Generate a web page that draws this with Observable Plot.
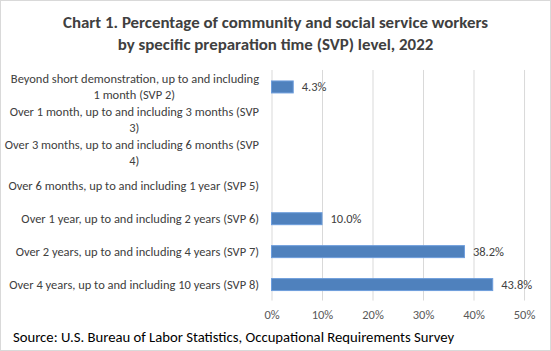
<!DOCTYPE html>
<html>
<head>
<meta charset="utf-8">
<script src="https://cdn.jsdelivr.net/npm/d3@7"></script>
<script src="https://cdn.jsdelivr.net/npm/@observablehq/plot@0.6"></script>
<style>
  html, body { margin: 0; padding: 0; background: #fff; }
  #chart { position: relative; width: 549px; height: 349px; border: 1px solid #d9d9d9; background: #fff; overflow: hidden;
    font-family: Carlito, Lato, "Open Sans", sans-serif; }
  #title { position: absolute; left: 0; top: 11px; width: 549px; text-align: center; font-weight: bold; font-size: 16.9px; line-height: 22px; color: #404040; }
  #plot { position: absolute; left: -1px; top: 55px; }
  #caption { position: absolute; left: 12px; top: 327px; font-size: 14.7px; line-height: 18px; color: #000; white-space: nowrap; }
</style>
</head>
<body>
<div id="chart">
  <div id="title">Chart 1. Percentage of community and social service workers<br>by specific preparation time (SVP) level, 2022</div>
  <div id="plot"></div>
  <div id="caption">Source: U.S. Bureau of Labor Statistics, Occupational Requirements Survey</div>
</div>
<script>
const categories = [
  "Beyond short demonstration, up to and including 1 month (SVP 2)",
  "Over 1 month, up to and including 3 months (SVP 3)",
  "Over 3 months, up to and including 6 months (SVP 4)",
  "Over 6 months, up to and including 1 year (SVP 5)",
  "Over 1 year, up to and including 2 years (SVP 6)",
  "Over 2 years, up to and including 4 years (SVP 7)",
  "Over 4 years, up to and including 10 years (SVP 8)"
];
const labelLine1 = [
  "Beyond short demonstration, up to and including",
  "Over 1 month, up to and including 3 months (SVP",
  "Over 3 months, up to and including 6 months (SVP",
  "Over 6 months, up to and including 1 year (SVP 5)",
  "Over 1 year, up to and including 2 years (SVP 6)",
  "Over 2 years, up to and including 4 years (SVP 7)",
  "Over 4 years, up to and including 10 years (SVP 8)"
];
const labelLine2 = ["1 month (SVP 2)", "3)", "4)", "", "", "", ""];
const values = [4.3, null, null, null, 10.0, 38.2, 43.8];
const xTicks = [0, 10, 20, 30, 40, 50];

const rows = categories.map((c, i) => ({category: c, line1: labelLine1[i], line2: labelLine2[i], value: values[i]}));
const bars = rows.filter(d => d.value != null);
const single = rows.filter(d => d.line2 === "");
const wrapped = rows.filter(d => d.line2 !== "");

const font = "Carlito, Lato, 'Open Sans', sans-serif";
const plot = Plot.plot({
  width: 551,
  height: 269,
  marginTop: 14,
  marginBottom: 24,
  marginLeft: 272,
  marginRight: 26,
  style: {fontFamily: font, fontSize: "12.5px", background: "transparent"},
  x: {domain: [0, 50], ticks: xTicks, tickFormat: d => d + "%"},
  y: {domain: categories, paddingInner: 0.65, paddingOuter: 0.325, axis: null},
  marks: [
    Plot.gridX(xTicks, {stroke: "#d9d9d9", strokeOpacity: 1, strokeWidth: 1}),
    Plot.axisX({ticks: xTicks, tickSize: 0, tickPadding: 9, tickFormat: d => d + "%", fill: "#595959", fontSize: 12.5, label: null}),
    Plot.barX(bars, {x: "value", y: "category", fill: "#4f81bd", stroke: "#6d9ddc", strokeWidth: 1}),
    Plot.text(bars, {x: "value", y: "category", text: d => d3.format(".1f")(d.value) + "%", textAnchor: "start", dx: 8, fill: "#404040", fontSize: 12.5}),
    Plot.text(single, {y: "category", frameAnchor: "left", text: "line1", textAnchor: "end", dx: -13, fill: "#404040", fontSize: 12.5}),
    Plot.text(wrapped, {y: "category", frameAnchor: "left", text: "line1", textAnchor: "end", dx: -13, dy: -8, fill: "#404040", fontSize: 12.5}),
    Plot.text(wrapped, {y: "category", frameAnchor: "left", text: "line2", textAnchor: "middle", dx: -138, dy: 8, fill: "#404040", fontSize: 12.5})
  ]
});
document.getElementById("plot").appendChild(plot);
</script>
</body>
</html>
